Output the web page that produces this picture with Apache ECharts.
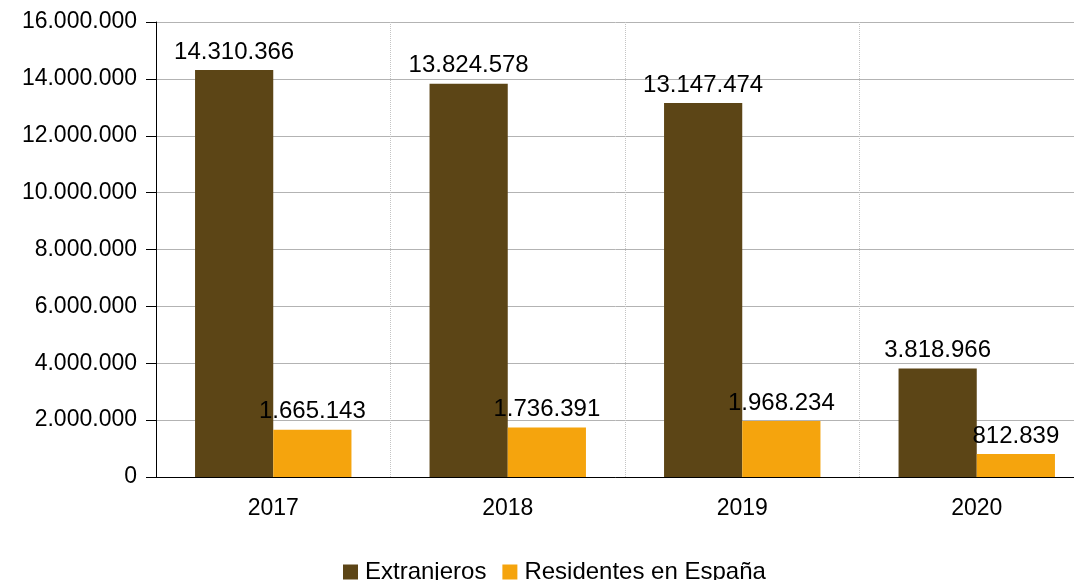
<!DOCTYPE html>
<html>
<head>
<meta charset="utf-8">
<script src="https://cdn.jsdelivr.net/npm/echarts@6/dist/echarts.min.js"></script>
<style>
html,body{margin:0;padding:0;background:#fff;}
#main{width:1074px;height:580px;}
</style>
</head>
<body>
<div id="main"></div>
<script>
var years = ["2017", "2018", "2019", "2020"];
var extranjeros = [14310366, 13824578, 13147474, 3818966];
var residentes = [1665143, 1736391, 1968234, 812839];
var yTicks = [0, 2000000, 4000000, 6000000, 8000000, 10000000, 12000000, 14000000, 16000000];

function fmt(v) {
    return String(v).replace(/\B(?=(\d{3})+(?!\d))/g, '.');
}

var myChart = echarts.init(document.getElementById("main"));
var option = {
    animation: false,
    textStyle: { fontFamily: 'Liberation Sans' },
    grid: {
        left: 156,
        width: 938,
        top: 22,
        bottom: 103,
        outerBoundsMode: 'none'
    },
    legend: {
        left: 338,
        top: 555,
        icon: 'rect',
        itemWidth: 15,
        itemHeight: 15,
        itemGap: 16,
        textStyle: { fontSize: 24, color: '#000', fontFamily: 'Liberation Sans', padding: [0, 0, 0, 2] },
        data: ['Extranjeros', 'Residentes en España']
    },
    xAxis: {
        type: 'category',
        data: years,
        axisLine: { lineStyle: { color: '#000', width: 1 } },
        axisTick: { length: 10, lineStyle: { color: '#000' } },
        axisLabel: { color: '#000', fontSize: 23, margin: 20 },
        splitLine: { show: true, lineStyle: { color: '#c4c4c4', type: 'dotted' } }
    },
    yAxis: {
        type: 'value',
        min: yTicks[0],
        max: yTicks[yTicks.length - 1],
        interval: 2000000,
        axisLine: { show: true, lineStyle: { color: '#000', width: 1 } },
        axisTick: { show: true, length: 10, lineStyle: { color: '#000' } },
        axisLabel: { color: '#000', fontSize: 23, margin: 19, formatter: fmt },
        splitLine: { lineStyle: { color: '#b3b3b3' } }
    },
    series: [{
        name: 'Extranjeros',
        type: 'bar',
        data: extranjeros,
        barGap: '0%',
        barCategoryGap: '33.3%',
        itemStyle: { color: '#5c4516' },
        label: {
            show: true, position: 'top', distance: 6,
            color: '#000', fontSize: 24,
            formatter: function (p) { return fmt(p.value); }
        }
    }, {
        name: 'Residentes en España',
        type: 'bar',
        data: residentes,
        itemStyle: { color: '#f5a40d' },
        label: {
            show: true, position: 'top', distance: 6,
            color: '#000', fontSize: 24,
            formatter: function (p) { return fmt(p.value); }
        }
    }]
};
myChart.setOption(option);
</script>
</body>
</html>
